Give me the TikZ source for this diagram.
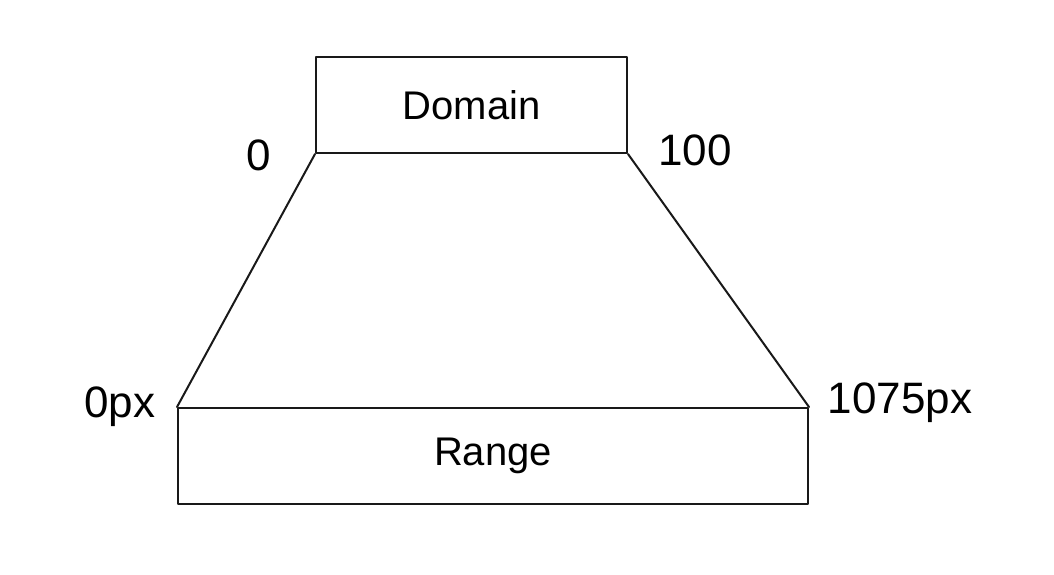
\documentclass[tikz,border=0pt]{standalone}
\usepackage{fontspec}
\setmainfont{Liberation Sans}
\begin{document}
\begin{tikzpicture}[x=1pt,y=-1pt,
  sketch/.style={draw=black!90, line width=2pt, line join=round, line cap=round},
  box/.style={sketch, rectangle, inner sep=0pt, font=\fontsize{40}{46}\selectfont},
  lbl/.style={font=\fontsize{44}{50}\selectfont, inner sep=0pt, text=black}]
\useasboundingbox[fill=white] (0,0) rectangle (1054,574);
\node[box, minimum width=311pt, minimum height=96pt] (dom) at (471.5,105) {Domain};
\node[box, minimum width=630pt, minimum height=96pt] (rng) at (493,456) {Range};
\draw[sketch] (dom.south west) -- (rng.north west);
\draw[sketch] (dom.south east) -- (rng.north east);
\node[lbl] (l0) at (259,155) {0};
\node[lbl] (l100) at (695,150) {100};
\node[lbl] (l0px) at (120,407) {0px};
\node[lbl] (l1075) at (900,403) {1075px};
\end{tikzpicture}
\end{document}
